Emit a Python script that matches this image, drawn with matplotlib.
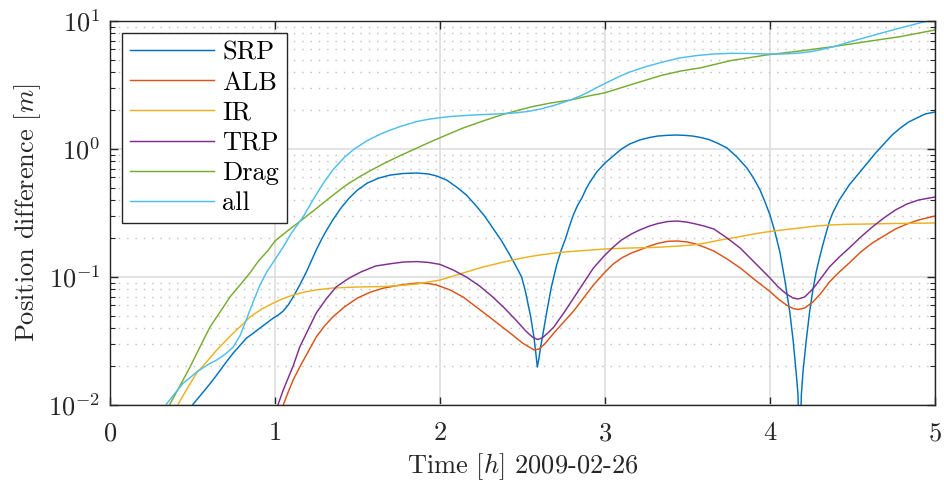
import numpy as np
import matplotlib
matplotlib.use("Agg")
import matplotlib.pyplot as plt
from matplotlib.ticker import LogLocator, LogFormatterMathtext, NullFormatter

plt.rcParams["font.family"] = "serif"
plt.rcParams["font.serif"] = ["cmr10"]
plt.rcParams["mathtext.fontset"] = "cm"
plt.rcParams["axes.formatter.use_mathtext"] = True

# position differences [m], time in hours
srp_t = [0.47, 0.505, 0.55, 0.60, 0.647, 0.70, 0.747, 0.79, 0.828, 0.87, 0.909, 0.95,
         0.99, 1.02, 1.05, 1.08, 1.11, 1.15, 1.19, 1.22, 1.25, 1.28, 1.31, 1.35, 1.40,
         1.45, 1.50, 1.56, 1.63, 1.70, 1.78, 1.86, 1.93, 1.98, 2.04, 2.10, 2.16, 2.22,
         2.27, 2.32, 2.37, 2.42, 2.46, 2.495, 2.52, 2.55, 2.57, 2.58, 2.59, 2.60, 2.61,
         2.625, 2.647, 2.675, 2.707, 2.735, 2.76, 2.785, 2.808, 2.835, 2.86, 2.885, 2.909,
         2.95, 3.0, 3.05, 3.10, 3.15, 3.21, 3.27, 3.32, 3.38, 3.43, 3.48, 3.53, 3.58,
         3.63, 3.68, 3.74, 3.80, 3.86, 3.90, 3.94, 3.97, 4.00, 4.03, 4.06, 4.09, 4.12,
         4.14, 4.16, 4.17, 4.18, 4.19, 4.20, 4.22, 4.24, 4.26, 4.28, 4.30, 4.32, 4.34,
         4.36, 4.38, 4.42, 4.48, 4.53, 4.59, 4.64, 4.69, 4.74, 4.79, 4.84, 4.89, 4.94, 5.0]
srp = [0.0085, 0.0102, 0.01197, 0.01433, 0.01715, 0.02129, 0.02548, 0.02943, 0.0334,
       0.03652, 0.03995, 0.04371, 0.04783, 0.05048, 0.05425, 0.06043, 0.06979, 0.0866,
       0.1094, 0.1334, 0.1626, 0.1946, 0.2288, 0.2788, 0.346, 0.4142, 0.4783, 0.5425,
       0.5935, 0.6264, 0.644, 0.6494, 0.638, 0.6152, 0.5725, 0.5048, 0.4371, 0.3588,
       0.2995, 0.2414, 0.1946, 0.1512, 0.1219, 0.100, 0.0750, 0.0487, 0.0334, 0.02595,
       0.01981, 0.02329, 0.02839, 0.03652, 0.05328, 0.08354, 0.1241, 0.1626, 0.1981,
       0.2503, 0.3050, 0.3652, 0.4142, 0.4870, 0.5525, 0.6613, 0.7774, 0.8818, 1.0,
       1.094, 1.176, 1.230, 1.263, 1.279, 1.286, 1.279, 1.263, 1.230, 1.186, 1.114,
       1.018, 0.866, 0.7104, 0.5935, 0.4783, 0.3854, 0.3050, 0.2247, 0.1567, 0.0947,
       0.05328, 0.0322, 0.01715, 0.01197, 0.003, 0.01197, 0.0181, 0.0322, 0.05328,
       0.07932, 0.1094, 0.1407, 0.1778, 0.2207, 0.2713, 0.3162, 0.3995, 0.5233, 0.6264,
       0.7774, 0.9306, 1.094, 1.286, 1.459, 1.625, 1.747, 1.877, 1.947]

alb_t = [1.03, 1.05, 1.08, 1.11, 1.15, 1.20, 1.25, 1.30, 1.35, 1.42, 1.50, 1.58, 1.66,
         1.76, 1.86, 1.93, 1.98, 2.06, 2.14, 2.22, 2.30, 2.37, 2.44, 2.50, 2.54, 2.57,
         2.60, 2.64, 2.69, 2.75, 2.81, 2.87, 2.93, 3.0, 3.05, 3.10, 3.16, 3.21, 3.27,
         3.32, 3.38, 3.44, 3.50, 3.55, 3.60, 3.66, 3.74, 3.82, 3.91, 4.0, 4.05, 4.10,
         4.14, 4.17, 4.21, 4.26, 4.31, 4.36, 4.42, 4.48, 4.55, 4.62, 4.69, 4.76, 4.83,
         4.90, 5.0]
alb = [0.0088, 0.0100, 0.01263, 0.01568, 0.01981, 0.02595, 0.03398, 0.04142, 0.0487,
       0.05829, 0.06855, 0.07636, 0.08205, 0.0866, 0.08977, 0.0889, 0.0866, 0.07932,
       0.06979, 0.05829, 0.0487, 0.04142, 0.03523, 0.0305, 0.02839, 0.0269, 0.02738,
       0.0305, 0.03652, 0.04451, 0.05425, 0.06855, 0.0866, 0.1094, 0.1263, 0.1407,
       0.1540, 0.1626, 0.1746, 0.183, 0.190, 0.1911, 0.1877, 0.1810, 0.1715, 0.1596,
       0.1382, 0.1176, 0.0947, 0.0770, 0.06732, 0.06043, 0.0567, 0.0558, 0.05725,
       0.0638, 0.0750, 0.0914, 0.1094, 0.1286, 0.1567, 0.1843, 0.2092, 0.2371, 0.2595,
       0.2788, 0.2995]

ir_t = [0.39, 0.414, 0.47, 0.525, 0.59, 0.647, 0.70, 0.747, 0.80, 0.848, 0.92, 0.99,
        1.05, 1.11, 1.18, 1.25, 1.35, 1.50, 1.66, 1.76, 1.86, 1.93, 2.0, 2.08, 2.16,
        2.26, 2.36, 2.45, 2.53, 2.606, 2.68, 2.75, 2.87, 3.0, 3.15, 3.29, 3.45, 3.53,
        3.60, 3.70, 3.82, 3.92, 4.02, 4.10, 4.20, 4.28, 4.36, 4.47, 4.59, 4.75, 5.0]
ir = [0.0088, 0.0102, 0.01357, 0.01778, 0.02207, 0.0269, 0.03162, 0.03652, 0.04217,
      0.0487, 0.05623, 0.06264, 0.0679, 0.07234, 0.07636, 0.07932, 0.08205, 0.08354,
      0.0843, 0.0858, 0.08818, 0.0914, 0.0947, 0.1018, 0.1094, 0.1197, 0.1286, 0.1366,
      0.1433, 0.1485, 0.1530, 0.1567, 0.161, 0.1655, 0.1685, 0.170, 0.1746, 0.1778,
      0.1834, 0.1946, 0.207, 0.219, 0.2288, 0.235, 0.2432, 0.2503, 0.2548, 0.258,
      0.2595, 0.2618, 0.2642]

trp_t = [1.00, 1.02, 1.05, 1.08, 1.11, 1.15, 1.20, 1.25, 1.31, 1.37, 1.45, 1.52, 1.61,
         1.70, 1.78, 1.86, 1.93, 2.0, 2.08, 2.16, 2.24, 2.32, 2.39, 2.46, 2.52, 2.56,
         2.59, 2.62, 2.66, 2.69, 2.75, 2.81, 2.87, 2.93, 3.0, 3.05, 3.10, 3.16, 3.21,
         3.27, 3.32, 3.38, 3.44, 3.50, 3.55, 3.60, 3.66, 3.74, 3.82, 3.91, 4.0, 4.05,
         4.10, 4.14, 4.17, 4.21, 4.26, 4.31, 4.36, 4.42, 4.48, 4.55, 4.62, 4.69, 4.76,
         4.83, 4.90, 5.0]
trp = [0.0088, 0.0102, 0.0131, 0.01626, 0.02017, 0.02839, 0.03854, 0.05233, 0.06732,
       0.08354, 0.09822, 0.1094, 0.1219, 0.127, 0.131, 0.132, 0.130, 0.1255, 0.1134,
       0.100, 0.08505, 0.06979, 0.05725, 0.04615, 0.03786, 0.03398, 0.0325, 0.0334,
       0.03718, 0.04068, 0.05233, 0.06855, 0.08977, 0.1176, 0.1485, 0.1715, 0.1946,
       0.2167, 0.2329, 0.2503, 0.2617, 0.2713, 0.2737, 0.268, 0.2595, 0.2503, 0.2371,
       0.2017, 0.168, 0.1286, 0.0982, 0.08354, 0.07362, 0.06855, 0.06732, 0.06979,
       0.08059, 0.0982, 0.1197, 0.1433, 0.1685, 0.2054, 0.2458, 0.2891, 0.3337, 0.3718,
       0.3995, 0.4217]

drag_t = [0.34, 0.364, 0.42, 0.485, 0.545, 0.606, 0.667, 0.727, 0.788, 0.848, 0.90,
          0.96, 1.00, 1.09, 1.17, 1.25, 1.33, 1.40, 1.45, 1.52, 1.58, 1.66, 1.76, 1.86,
          1.94, 2.06, 2.14, 2.26, 2.38, 2.55, 2.67, 2.79, 2.90, 3.0, 3.17, 3.35, 3.46,
          3.58, 3.76, 3.98, 4.18, 4.38, 4.59, 4.79, 5.0]
drag = [0.0088, 0.0102, 0.01382, 0.01981, 0.02839, 0.04068, 0.05328, 0.06979, 0.0866,
        0.1075, 0.1334, 0.1626, 0.1911, 0.2371, 0.2839, 0.3427, 0.4142, 0.4870, 0.5425,
        0.6152, 0.6795, 0.7705, 0.8897, 1.018, 1.134, 1.321, 1.459, 1.655, 1.860, 2.129,
        2.288, 2.414, 2.595, 2.75, 3.22, 3.785, 4.068, 4.31, 4.9, 5.43, 5.83, 6.30, 6.92,
        7.55, 8.51]

all_t = [0.32, 0.343, 0.40, 0.444, 0.49, 0.525, 0.60, 0.647, 0.70, 0.747, 0.79, 0.828,
         0.87, 0.909, 0.95, 0.99, 1.05, 1.10, 1.17, 1.23, 1.29, 1.35, 1.42, 1.48, 1.56,
         1.64, 1.70, 1.76, 1.86, 1.94, 2.06, 2.20, 2.34, 2.45, 2.53, 2.61, 2.70, 2.79,
         2.85, 2.90, 2.95, 3.0, 3.08, 3.15, 3.25, 3.35, 3.45, 3.56, 3.66, 3.76, 3.87,
         3.98, 4.08, 4.18, 4.25, 4.30, 4.38, 4.48, 4.59, 4.69, 4.79, 4.87, 4.93, 5.0]
all_ = [0.0088, 0.0102, 0.01263, 0.01485, 0.01655, 0.0181, 0.02092, 0.02247, 0.02503,
        0.02839, 0.03523, 0.04698, 0.06494, 0.0866, 0.1094, 0.131, 0.1715, 0.2207,
        0.2943, 0.3995, 0.5328, 0.6855, 0.8586, 1.0, 1.165, 1.310, 1.407, 1.499, 1.641,
        1.716, 1.794, 1.843, 1.877, 1.911, 1.963, 2.054, 2.207, 2.414, 2.595, 2.787, 3.02,
        3.25, 3.652, 3.995, 4.41, 4.78, 5.14, 5.38, 5.525, 5.59, 5.58, 5.525, 5.525,
        5.623, 5.77, 5.94, 6.27, 6.85, 7.50, 8.15, 8.82, 9.38, 9.82, 10.18]

series = [
    ("SRP", srp_t, srp, "#0072BD"),
    ("ALB", alb_t, alb, "#D95319"),
    ("IR", ir_t, ir, "#EDB120"),
    ("TRP", trp_t, trp, "#7E2F8E"),
    ("Drag", drag_t, drag, "#77AC30"),
    ("all", all_t, all_, "#4DBEEE"),
]

FS = 19
fig = plt.figure(figsize=(9.45, 4.84), dpi=100)
ax = fig.add_axes([0.1164, 0.1632, 0.873, 0.7934])

for name, t, v, c in series:
    ax.plot(t, v, color=c, lw=1.05, label=name, solid_joinstyle="round")

ax.set_yscale("log")
ax.set_xlim(0, 5)
ax.set_ylim(1e-2, 1e1)
ax.set_xticks([0, 1, 2, 3, 4, 5])
ax.yaxis.set_major_locator(LogLocator(base=10, numticks=10))
ax.yaxis.set_major_formatter(LogFormatterMathtext())
ax.yaxis.set_minor_locator(LogLocator(base=10, subs=np.arange(2, 10), numticks=20))
ax.yaxis.set_minor_formatter(NullFormatter())

ax.grid(True, which="major", color="#e0e0e0", lw=1.3, ls="-")
ax.grid(True, which="minor", axis="y", color="#bdbdbd", lw=1.0, ls=(0, (1, 5)))
ax.set_axisbelow(True)

ax.tick_params(which="both", direction="in", top=True, right=True,
               labelsize=FS, colors="#262626")
ax.tick_params(axis="x", pad=12)
ax.tick_params(axis="y", pad=7)
ax.tick_params(which="major", length=6, width=1)
ax.tick_params(which="minor", length=3.5, width=0.8)
for sp in ax.spines.values():
    sp.set_color("#262626")
    sp.set_linewidth(1.0)

ax.set_xlabel("Time $[h]$ 2009-02-26", fontsize=FS, color="#262626", labelpad=4)
ax.set_ylabel("Position difference $[m]$", fontsize=FS, color="#262626", labelpad=4)

leg = ax.legend(loc="upper left", bbox_to_anchor=(0.0145, 0.969), borderaxespad=0,
                fontsize=FS, handlelength=3.2, handletextpad=0.3, labelspacing=0.24,
                borderpad=0.3, fancybox=False, framealpha=1, edgecolor="#262626")
leg.get_frame().set_linewidth(1.0)

fig.savefig("out.png", dpi=100)
